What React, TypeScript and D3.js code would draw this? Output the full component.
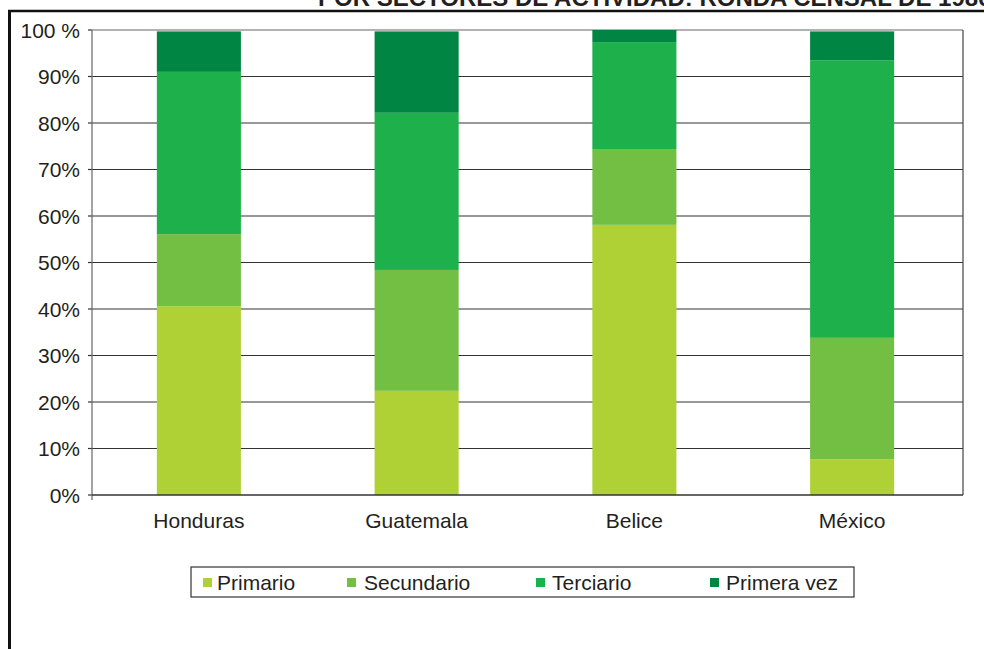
import React from "react";
import * as d3 from "d3";

const countries = ["Honduras", "Guatemala", "Belice", "México"];
const seriesNames = ["Primario", "Secundario", "Terciario", "Primera vez"];
const primario = [40.6, 22.4, 58.1, 7.7];
const secundario = [15.5, 26.0, 16.3, 26.1];
const terciario = [34.9, 33.8, 23.0, 59.7];
const primeraVez = [8.7, 17.5, 2.6, 6.2];
const yTicks = [0, 10, 20, 30, 40, 50, 60, 70, 80, 90, 100];
const colors = ["#b0d135", "#72bf44", "#1db04b", "#008542"];
const title = "POR SECTORES DE ACTIVIDAD: RONDA CENSAL DE 1980";

const W = 984;
const H = 649;
const plot = { left: 92, right: 963, top: 30, bottom: 495 };
const font = "'Liberation Sans', Arial, Helvetica, sans-serif";
const textColor = "#231f20";

export default function App() {
  const y = d3.scaleLinear().domain([0, 100]).range([plot.bottom, plot.top]);
  const x = d3
    .scaleBand<string>()
    .domain(countries)
    .range([plot.left - 2, plot.right - 2])
    .paddingInner(0.614)
    .paddingOuter(0.307);

  const rows = countries.map((c, i) => ({
    country: c,
    Primario: primario[i],
    Secundario: secundario[i],
    Terciario: terciario[i],
    "Primera vez": primeraVez[i],
  }));
  const stacked = d3.stack<any>().keys(seriesNames)(rows);

  const legendItems = [
    { sq: 203, tx: 217 },
    { sq: 347, tx: 364 },
    { sq: 536, tx: 552 },
    { sq: 710, tx: 726 },
  ];

  return (
    <svg
      width={W}
      height={H}
      style={{ position: "absolute", left: 0, top: 0, background: "#fff" }}
    >
      <text
        x={318}
        y={6}
        fontFamily={font}
        fontWeight="bold"
        fontSize={24}
        fill={textColor}
      >
        {title}
      </text>
      {/* frame */}
      <line x1={8} x2={W} y1={11} y2={11} stroke="#111" strokeWidth={2.5} />
      <line x1={9.5} x2={9.5} y1={10} y2={H} stroke="#111" strokeWidth={3} />

      {/* gridlines */}
      {yTicks.map((t) => (
        <g key={t}>
          {t > 0 && t < 100 && (
            <line
              x1={plot.left}
              x2={plot.right}
              y1={y(t)}
              y2={y(t)}
              stroke="#333"
              strokeWidth={1.2}
            />
          )}
          <line
            x1={88}
            x2={plot.left}
            y1={y(t)}
            y2={y(t)}
            stroke="#333"
            strokeWidth={1.2}
          />
          <text
            x={80}
            y={y(t) + 7.5}
            textAnchor="end"
            fontFamily={font}
            fontSize={21}
            fill={textColor}
          >
            {t === 100 ? "100 %" : `${t}%`}
          </text>
        </g>
      ))}
      <line
        x1={plot.left}
        x2={plot.right}
        y1={plot.top}
        y2={plot.top}
        stroke="#999"
        strokeWidth={1.5}
      />
      <line
        x1={plot.right}
        x2={plot.right}
        y1={plot.top}
        y2={plot.bottom}
        stroke="#444"
        strokeWidth={1.2}
      />

      {/* bars */}
      {stacked.map((s, si) => (
        <g key={s.key} fill={colors[si]}>
          {s.map((d, i) => (
            <rect
              key={i}
              x={x(countries[i])}
              width={x.bandwidth()}
              y={y(d[1])}
              height={y(d[0]) - y(d[1])}
            />
          ))}
        </g>
      ))}

      <line
        x1={plot.left}
        x2={plot.left}
        y1={plot.top}
        y2={plot.bottom + 5}
        stroke="#666"
        strokeWidth={1.2}
      />
      <line
        x1={plot.left}
        x2={plot.right}
        y1={plot.bottom}
        y2={plot.bottom}
        stroke="#333"
        strokeWidth={1.5}
      />

      {/* category labels */}
      {countries.map((c) => (
        <text
          key={c}
          x={(x(c) as number) + x.bandwidth() / 2}
          y={528}
          textAnchor="middle"
          fontFamily={font}
          fontSize={21}
          fill={textColor}
        >
          {c}
        </text>
      ))}

      {/* legend */}
      <rect
        x={191}
        y={567}
        width={663}
        height={30}
        fill="#fff"
        stroke="#333"
        strokeWidth={1.2}
      />
      {seriesNames.map((n, i) => (
        <g key={n}>
          <rect
            x={legendItems[i].sq}
            y={578}
            width={9}
            height={9}
            fill={colors[i]}
          />
          <text
            x={legendItems[i].tx}
            y={590}
            fontFamily={font}
            fontSize={21}
            fill={textColor}
          >
            {n}
          </text>
        </g>
      ))}
    </svg>
  );
}
